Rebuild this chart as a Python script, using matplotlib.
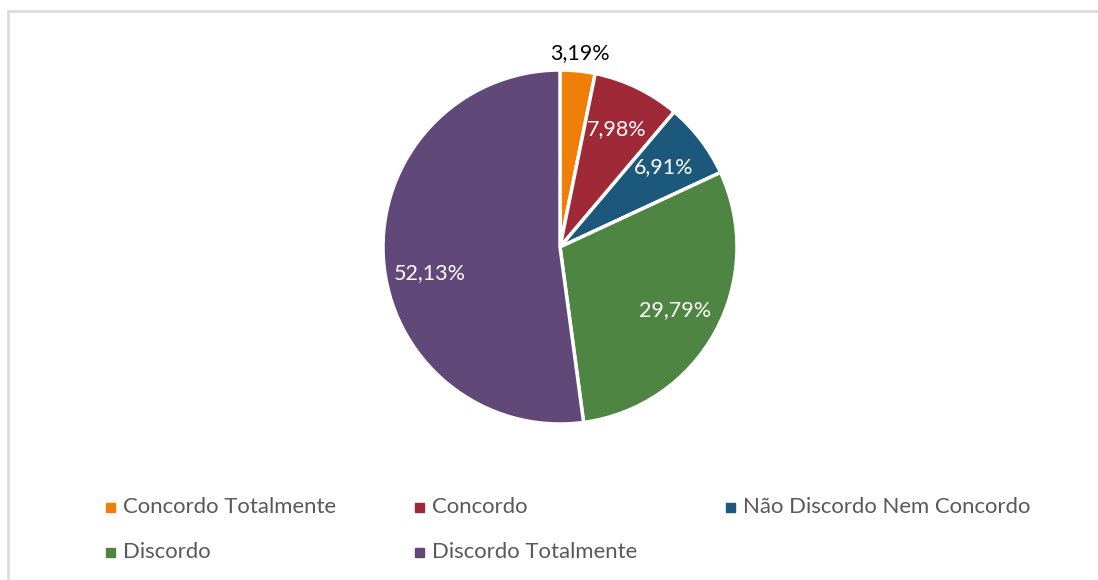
import numpy as np
import matplotlib.pyplot as plt
from matplotlib.lines import Line2D
from matplotlib.patches import Rectangle

categorias = ["Concordo Totalmente", "Concordo", "Não Discordo Nem Concordo",
              "Discordo", "Discordo Totalmente"]
valores = [3.19, 7.98, 6.91, 29.79, 52.13]
cores = ["#F07F09", "#9F2936", "#1B587C", "#4E8542", "#604878"]

plt.rcParams['font.family'] = ['Lato', 'DejaVu Sans']

W, H = 1098, 580
fig = plt.figure(figsize=(W / 100, H / 100), dpi=100)

# moldura cinza do gráfico (só aparecem a borda de cima e a da esquerda)
borda = dict(color="#D9D9D9", linewidth=1.8, transform=fig.transFigure)
fig.add_artist(Line2D([7.5 / W, 1], [1 - 10.5 / H] * 2, **borda))
fig.add_artist(Line2D([7.5 / W] * 2, [0, 1 - 10.5 / H], **borda))

cx, cy, r = 560, 247, 177
ax = fig.add_axes([(cx - r) / W, 1 - (cy + r) / H, 2 * r / W, 2 * r / H])
wedges, _ = ax.pie(valores, colors=cores, startangle=90, counterclock=False,
                   wedgeprops=dict(edgecolor="white", linewidth=2.5))
ax.set_xlim(-1, 1)
ax.set_ylim(-1, 1)
ax.set_aspect("equal")

# rótulos: dentro da fatia, exceto a menor que fica por fora
ang = 90
for i, v in enumerate(valores):
    mid = np.deg2rad(ang - v / 100 * 360 / 2)
    ang -= v / 100 * 360
    txt = f"{v:.2f}%".replace(".", ",")
    if v < 5:
        ax.text(1.1 * np.cos(mid), 1.1 * np.sin(mid), txt, ha="center",
                va="center", fontsize=15.5, color="black")
    else:
        dy = -0.1 if v > 50 else 0
        ax.text(0.74 * np.cos(mid), 0.74 * np.sin(mid) + dy, txt,
                ha="center", va="center", fontsize=15.5, color="white")

# legenda em duas linhas, três colunas
col_x = [106, 415, 726]
lin_y = [507, 552]
for i, (nome, cor) in enumerate(zip(categorias, cores)):
    x = col_x[i % 3]
    y = lin_y[i // 3]
    fig.add_artist(Rectangle((x / W, (H - y - 4.5) / H), 9 / W, 9 / H,
                             transform=fig.transFigure, color=cor))
    fig.text((x + 17) / W, (H - y) / H, nome, ha="left", va="center",
             fontsize=15.9, color="#595959")

fig.savefig("out.png", dpi=100)
